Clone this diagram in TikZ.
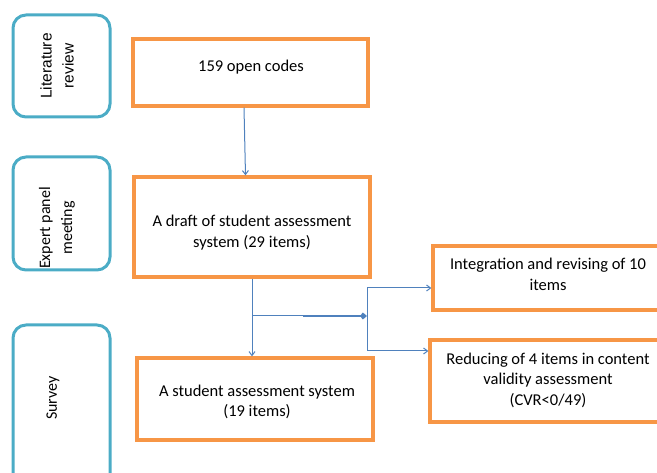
\documentclass[tikz,border=0pt]{standalone}
\usepackage{fontspec}
\setmainfont{Carlito}
\newfontfamily\arialf{Liberation Sans}
\usetikzlibrary{arrows.meta}
\definecolor{obord}{HTML}{F79646}
\definecolor{tbord}{HTML}{4BACC6}
\definecolor{aline}{HTML}{4F81BD}
\begin{document}
\begin{tikzpicture}[x=1pt,y=-1pt,
  phase/.style={draw=tbord, line width=3pt, rounded corners=13pt, minimum width=97pt},
  obox/.style={draw=obord, line width=3.3pt, minimum width=236pt},
  txt/.style={align=center, font=\fontsize{16.5}{20.5}\selectfont, inner sep=0pt},
  ptxt/.style={align=center, font=\fontsize{16}{22}\selectfont, inner sep=0pt, rotate=90},
  conn/.style={draw=aline, line width=1pt},
  arr/.style={conn, -{Straight Barb[length=4pt,width=6pt]}}]
\useasboundingbox (0,0) rectangle (657,473);
\clip (0,0) rectangle (657,473);
% phase boxes
\node[phase, minimum height=102pt] (lit) at (61.5,66) {};
\node[ptxt, font=\arialf\fontsize{15.5}{22}\selectfont] (littx) at (57,66) {Literature\\review};
\node[phase, minimum height=113pt] (exp) at (61.5,213.5) {};
\node[ptxt] (exptx) at (57,228) {Expert panel\\meeting};
\node[phase, minimum height=170pt] (sur) at (61.5,410) {};
\node[ptxt] (surtx) at (53,398) {Survey};
% orange boxes
\node[obox, minimum width=235pt, minimum height=67pt] (codes) at (250.5,72.5) {};
\node[txt] (codestx) at (251,67) {159 open codes};
\node[obox, minimum height=100pt] (draft) at (252,227) {};
\node[txt] (drafttx) at (252,232.5) {A draft of student assessment\\system (29 items)};
\node[obox, minimum height=82pt] (stud) at (255,399) {};
\node[txt] (studtx) at (257,402) {A student assessment system\\(19 items)};
\node[obox, minimum width=270pt, minimum height=64pt] (integ) at (568,278) {};
\node[txt] (integtx) at (548,274.5) {Integration and revising of 10\\items};
\node[obox, minimum width=270pt, minimum height=82pt] (red) at (565,381) {};
\node[txt] (redtx) at (548,380) {Reducing of 4 items in content\\validity assessment\\(CVR<0/49)};
% connectors
\draw[arr] ([xshift=-6.5pt]codes.south) -- ([xshift=-6.5pt]draft.north);
\draw[arr] (draft.south) -- (draft.south |- stud.north);
\coordinate (j) at (252,316);
\coordinate (t) at (303,316);
\coordinate (k) at (367,316);
\coordinate (ku) at (367,288);
\coordinate (kd) at (367,351);
\draw[conn] (j) -- (t);
\draw[draw=aline, line width=2.6pt, -{Straight Barb[length=3pt,width=5pt]}] (t) -- (k);
\draw[arr] (k) -- (ku) -- (ku -| integ.west);
\draw[arr] (k) -- (kd) -- (kd -| red.west);
\end{tikzpicture}
\end{document}
